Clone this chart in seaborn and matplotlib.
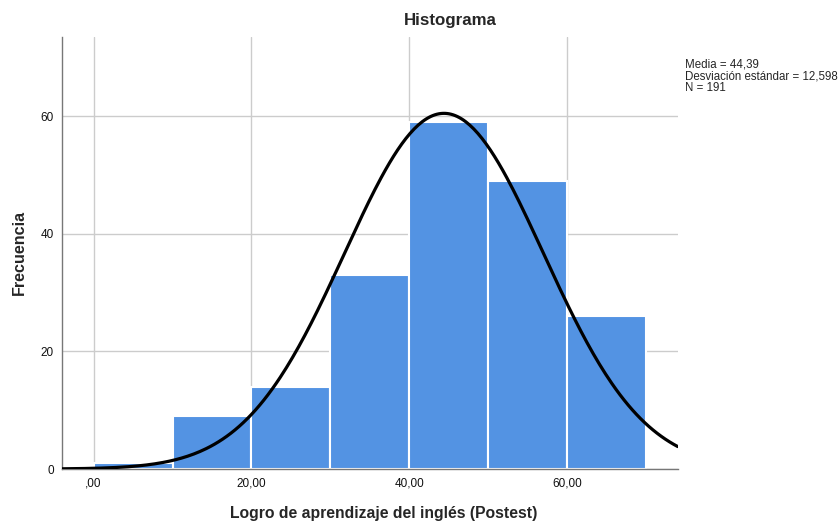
import numpy as np
import pandas as pd
import seaborn as sns
import matplotlib.pyplot as plt

# histogram data
bin_edges = [0, 10, 20, 30, 40, 50, 60, 70]
counts = [1, 9, 14, 33, 59, 49, 26]
media = 44.39
desv = 12.598
n_total = 191

x_ticks = [0, 20, 40, 60]
x_tick_labels = [",00", "20,00", "40,00", "60,00"]
y_ticks = [0, 20, 40, 60]

sns.set_theme(style="white")
plt.rcParams['font.family'] = ['Liberation Sans', 'DejaVu Sans']

fig = plt.figure(figsize=(8.4, 5.22), dpi=100)
ax = fig.add_axes([0.0738, 0.1015, 0.733, 0.828])

centers = [(a + b) / 2 for a, b in zip(bin_edges[:-1], bin_edges[1:])]
df = pd.DataFrame({"valor": centers, "n": counts})
sns.histplot(data=df, x="valor", weights="n", bins=bin_edges, ax=ax,
             color="#5393E3", alpha=1, edgecolor="white", linewidth=1.5, zorder=2)

# normal curve from the reported mean/sd
xs = np.linspace(-4, 74, 300)
ys = n_total * 10 / (desv * np.sqrt(2 * np.pi)) * np.exp(-0.5 * ((xs - media) / desv) ** 2)
sns.lineplot(x=xs, y=ys, ax=ax, color="black", linewidth=2.3, zorder=3)

ax.set_xlim(-4, 74)
ax.set_ylim(0, 73.5)
ax.set_xticks(x_ticks)
ax.set_xticklabels(x_tick_labels, fontsize=8.5, color="#111111")
ax.set_yticks(y_ticks)
ax.set_yticklabels([str(v) for v in y_ticks], fontsize=8.5, color="#111111")
ax.tick_params(length=0, pad=6)
ax.grid(True, color="#cccccc", linewidth=1, zorder=0)
ax.set_axisbelow(True)
for s in ["top", "right"]:
    ax.spines[s].set_visible(False)
for s in ["left", "bottom"]:
    ax.spines[s].set_color("#777777")
    ax.spines[s].set_linewidth(1)

fig.text(450 / 840, 1 - 21 / 522, "Histograma", fontsize=12.2, fontweight="bold",
         ha="center", va="center")
ax.set_xlabel("Logro de aprendizaje del inglés (Postest)", fontsize=11.3,
              fontweight="bold")
ax.xaxis.set_label_coords(0.523, -0.104)
ax.xaxis.label.set_va("center")
ax.set_ylabel("Frecuencia", fontsize=11.6, fontweight="bold", labelpad=10)

fig.text(0.815, 0.888, "Media = 44,39\nDesviación estándar = 12,598\nN = 191",
         fontsize=8.3, va="top", ha="left", linespacing=1.0)

plt.savefig("out.png", dpi=100)
